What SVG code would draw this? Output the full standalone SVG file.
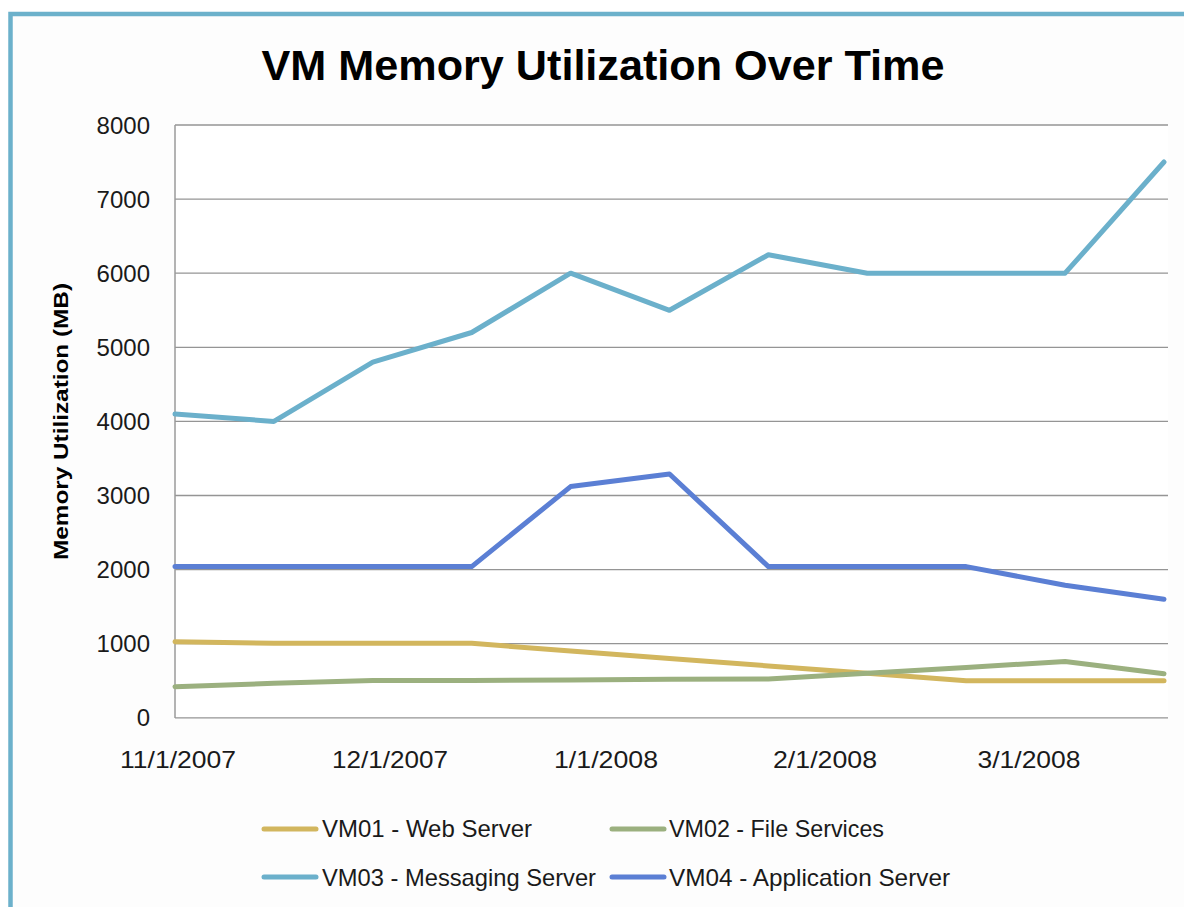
<svg xmlns="http://www.w3.org/2000/svg" width="1184" height="907" viewBox="0 0 1184 907">
  <style>
    .frame { fill: #fdfdfd; stroke: #6cb1cb; stroke-width: 4.5; }
    .grid { stroke: #959595; stroke-width: 1.3; fill: none; }
    .axis { stroke: #9a9a9a; stroke-width: 1.5; fill: none; }
    .tick { font-family: "Liberation Sans", Arial, sans-serif; font-size: 24px; fill: #1a1a1a; }
    .title { font-family: "Liberation Sans", Arial, sans-serif; font-size: 42px; font-weight: bold; fill: #000; }
    .ytitle { font-family: "Liberation Sans", Arial, sans-serif; font-size: 21px; font-weight: bold; fill: #000; }
    .series { fill: none; stroke-width: 5; stroke-linejoin: round; stroke-linecap: round; }
    .vm01 { stroke: #d2b65e; }
    .vm02 { stroke: #9bb07f; }
    .vm03 { stroke: #6bb0cb; }
    .vm04 { stroke: #5b7fd4; }
  </style>

  <!-- chart frame -->
  <rect class="frame" x="10.5" y="14" width="1200" height="1000"/>

  <!-- title -->
  <text class="title" x="603" y="80" text-anchor="middle" textLength="683" lengthAdjust="spacingAndGlyphs">VM Memory Utilization Over Time</text>

  <!-- plot area -->
  <g id="plot-area">
    <rect x="175" y="125" width="993" height="593" fill="#ffffff"/>
    <g class="grid">
      <line x1="175" y1="125" x2="1168" y2="125"/>
      <line x1="175" y1="199.1" x2="1168" y2="199.1"/>
      <line x1="175" y1="273.2" x2="1168" y2="273.2"/>
      <line x1="175" y1="347.3" x2="1168" y2="347.3"/>
      <line x1="175" y1="421.4" x2="1168" y2="421.4"/>
      <line x1="175" y1="495.5" x2="1168" y2="495.5"/>
      <line x1="175" y1="569.6" x2="1168" y2="569.6"/>
      <line x1="175" y1="643.7" x2="1168" y2="643.7"/>
      <line x1="175" y1="717.8" x2="1168" y2="717.8"/>
    </g>
    <line class="axis" x1="175" y1="125" x2="175" y2="718"/>
  </g>

  <!-- value axis -->
  <g id="y-axis" class="tick" text-anchor="end">
    <text x="150" y="134">8000</text>
    <text x="150" y="208">7000</text>
    <text x="150" y="282">6000</text>
    <text x="150" y="356">5000</text>
    <text x="150" y="430">4000</text>
    <text x="150" y="504">3000</text>
    <text x="150" y="578">2000</text>
    <text x="150" y="652">1000</text>
    <text x="150" y="726">0</text>
  </g>
  <text class="ytitle" transform="translate(68,421.5) rotate(-90)" text-anchor="middle" textLength="277" lengthAdjust="spacingAndGlyphs">Memory Utilization (MB)</text>

  <!-- date axis -->
  <g id="x-axis" class="tick" text-anchor="middle">
    <text x="178" y="768" textLength="116" lengthAdjust="spacingAndGlyphs">11/1/2007</text>
    <text x="390" y="768" textLength="116" lengthAdjust="spacingAndGlyphs">12/1/2007</text>
    <text x="606" y="768" textLength="104" lengthAdjust="spacingAndGlyphs">1/1/2008</text>
    <text x="825" y="768" textLength="104" lengthAdjust="spacingAndGlyphs">2/1/2008</text>
    <text x="1029" y="768" textLength="103" lengthAdjust="spacingAndGlyphs">3/1/2008</text>
  </g>

  <!-- data series -->
  <g id="series">
    <polyline id="vm01-line" class="series vm01" points="175,641.8 273.9,643.3 372.8,643.3 471.7,643.3 570.6,651.1 669.5,658.5 768.4,665.9 867.3,673.3 966.2,680.8 1065.1,680.8 1164,680.8"/>
    <polyline id="vm02-line" class="series vm02" points="175,686.7 273.9,683.3 372.8,680.4 471.7,680.4 570.6,680 669.5,679.3 768.4,678.9 867.3,673.3 966.2,667.4 1065.1,661.5 1164,673.7"/>
    <polyline id="vm03-line" class="series vm03" points="175,414 273.9,421.4 372.8,362.1 471.7,332.5 570.6,273.2 669.5,310.3 768.4,254.7 867.3,273.2 966.2,273.2 1065.1,273.2 1164,162"/>
    <polyline id="vm04-line" class="series vm04" points="175,566.6 273.9,566.6 372.8,566.6 471.7,566.6 570.6,486.6 669.5,474 768.4,566.6 867.3,566.6 966.2,566.6 1065.1,585.2 1164,599.2"/>
  </g>

  <!-- legend -->
  <g id="legend" class="tick">
    <g id="legend-vm01">
      <line class="series vm01" x1="264" y1="829" x2="316" y2="829"/>
      <text x="322" y="837" textLength="210" lengthAdjust="spacingAndGlyphs">VM01 - Web Server</text>
    </g>
    <g id="legend-vm02">
      <line class="series vm02" x1="612" y1="829" x2="664" y2="829"/>
      <text x="669" y="837" textLength="215" lengthAdjust="spacingAndGlyphs">VM02 - File Services</text>
    </g>
    <g id="legend-vm03">
      <line class="series vm03" x1="264" y1="877" x2="316" y2="877"/>
      <text x="322" y="886" textLength="274" lengthAdjust="spacingAndGlyphs">VM03 - Messaging Server</text>
    </g>
    <g id="legend-vm04">
      <line class="series vm04" x1="612" y1="877" x2="664" y2="877"/>
      <text x="669" y="886" textLength="281" lengthAdjust="spacingAndGlyphs">VM04 - Application Server</text>
    </g>
  </g>
</svg>
